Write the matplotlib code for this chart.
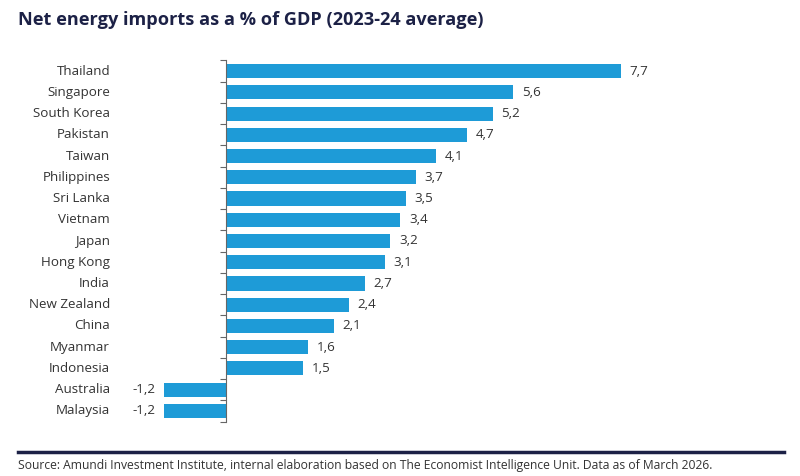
import matplotlib
matplotlib.use("Agg")
import matplotlib.pyplot as plt
import matplotlib.transforms as mtransforms
import numpy as np

plt.rcParams['font.family'] = ['Open Sans', 'DejaVu Sans']

countries = ["Thailand", "Singapore", "South Korea", "Pakistan", "Taiwan",
             "Philippines", "Sri Lanka", "Vietnam", "Japan", "Hong Kong",
             "India", "New Zealand", "China", "Myanmar", "Indonesia",
             "Australia", "Malaysia"]
values = [7.7, 5.6, 5.2, 4.7, 4.1, 3.7, 3.5, 3.4, 3.2, 3.1,
          2.7, 2.4, 2.1, 1.6, 1.5, -1.2, -1.2]

title = "Net energy imports as a % of GDP (2023-24 average)"
source = ("Source: Amundi Investment Institute, internal elaboration based on "
          "The Economist Intelligence Unit. Data as of March 2026.")

bar_color = "#1e9bd7"
text_color = "#333333"
navy = "#1c2146"

fig = plt.figure(figsize=(8, 4.76), dpi=100)
# axes: left 160px, right 700px; rows 71..411px
ax = fig.add_axes([160 / 800, 1 - 421.6 / 476, 540 / 800, (421.6 - 60.4) / 476])

y = np.arange(len(countries))
ax.barh(y, values, height=0.66, color=bar_color)

ax.set_ylim(len(countries) - 0.5, -0.5)
ax.set_xlim((160 - 226) / 51.3, (700 - 226) / 51.3)

for s in ['top', 'right', 'bottom']:
    ax.spines[s].set_visible(False)
ax.spines['left'].set_position(('data', 0))
ax.spines['left'].set_color('#666666')
ax.spines['left'].set_linewidth(0.8)
ax.set_xticks([])
ax.set_yticks([])
ax.set_yticks(np.arange(-0.5, len(countries), 1), minor=True)
ax.tick_params(axis='y', which='minor', length=4, color='#666666', width=0.8,
               labelleft=False)

trans = mtransforms.blended_transform_factory(fig.transFigure, ax.transData)
for i, (c, v) in enumerate(zip(countries, values)):
    ax.text(110 / 800, i, c, transform=trans, ha='right', va='center',
            fontsize=9.6, color=text_color)
    lab = f"{v:.1f}".replace('.', ',')
    off = 0.17 if v >= 0 else -0.17
    ax.text(v + off, i, lab, ha='left' if v >= 0 else 'right', va='center',
            fontsize=9.6, color=text_color)

fig.text(18 / 800, 1 - 20 / 476, title, ha='left', va='center',
         fontsize=13.1, fontweight='bold', color=navy)

fig.add_artist(plt.Line2D([18 / 800, 784 / 800], [1 - 452 / 476, 1 - 452 / 476],
                          transform=fig.transFigure, color=navy, linewidth=2.5))
fig.text(18 / 800, 1 - 465 / 476, source, ha='left', va='center',
         fontsize=8.7, color=text_color)

fig.savefig("out.png", dpi=100)
